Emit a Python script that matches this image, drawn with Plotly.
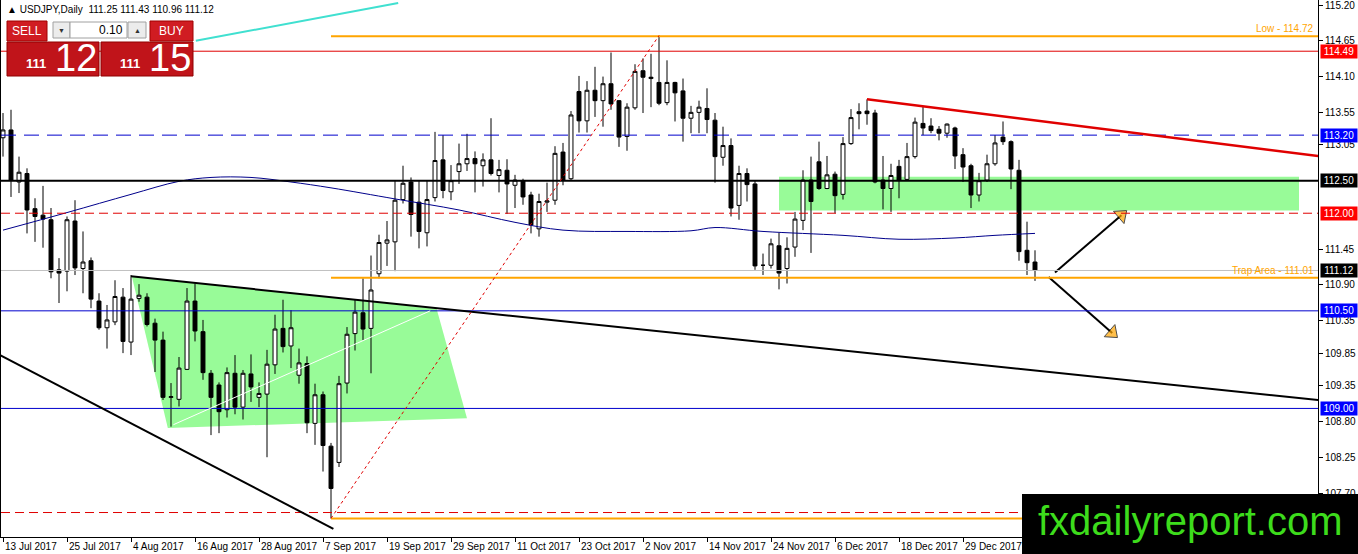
import plotly.graph_objects as go

# ---- daily candles (index 0 = 13 Jul 2017) ----
opens = [113.16, 113.28, 112.48, 112.61, 112.07, 111.97, 111.90, 111.13, 111.11, 111.88,
         111.15, 111.27, 110.65, 110.24, 110.33, 110.71, 110.02, 110.69, 110.71, 110.31,
         110.05, 109.17, 109.14, 109.60, 110.65, 110.18, 109.54, 109.36, 108.98, 109.54,
         109.02, 109.53, 109.17, 109.22, 109.67, 110.23, 109.96, 109.51, 109.69, 108.77,
         109.21, 108.42, 108.17, 109.39, 110.15, 110.47, 110.23, 111.07, 111.54, 111.56,
         112.21, 112.48, 112.17, 111.70, 112.24, 112.82, 112.33, 112.64, 112.76, 112.84,
         112.73, 112.82, 112.58, 112.66, 112.43, 112.50, 112.28, 111.76, 112.17, 112.20,
         112.94, 112.53, 113.87, 113.42, 113.89, 113.73, 113.99, 113.73, 113.18, 113.62,
         114.19, 114.07, 114.01, 113.70, 114.01, 113.88, 113.46, 113.55, 113.61, 113.43,
         112.86, 113.04, 112.12, 112.61, 112.45, 111.20, 111.20, 111.50, 111.15, 111.48,
         111.89, 112.51, 112.79, 112.38, 112.60, 112.29, 113.07, 113.56, 113.57, 113.54,
         112.51, 112.38, 112.72, 112.52, 112.87, 113.38, 113.34, 113.29, 113.23, 113.31,
         112.90, 112.73, 112.28, 112.51, 112.76, 113.17, 113.10, 112.66, 111.43, 111.25]
highs = [113.54, 113.59, 112.87, 112.69, 112.23, 112.42, 112.08, 111.31, 111.95, 112.20,
         111.72, 111.32, 110.77, 110.59, 110.97, 110.85, 111.05, 110.91, 110.77, 110.38,
         110.18, 109.39, 109.79, 110.85, 110.92, 110.36, 109.59, 109.40, 109.63, 109.82,
         109.59, 109.83, 109.40, 109.90, 110.44, 110.67, 110.51, 109.92, 109.80, 109.38,
         109.26, 108.47, 109.50, 110.25, 110.67, 111.00, 111.35, 111.67, 111.88, 112.51,
         112.73, 112.55, 112.51, 112.51, 113.25, 113.20, 112.74, 113.07, 113.22, 112.95,
         112.92, 113.46, 112.82, 112.83, 112.59, 112.53, 112.33, 112.30, 112.47, 113.03,
         113.08, 113.57, 114.11, 114.03, 114.25, 114.10, 114.47, 113.74, 113.69, 114.29,
         114.38, 114.45, 114.73, 114.35, 114.02, 114.07, 113.65, 113.73, 113.92, 113.54,
         113.33, 113.15, 112.73, 112.69, 112.51, 111.38, 111.61, 111.70, 111.63, 112.02,
         112.66, 112.87, 113.10, 112.88, 112.64, 113.17, 113.60, 113.69, 113.75, 113.59,
         112.88, 112.76, 112.82, 113.08, 113.47, 113.64, 113.46, 113.34, 113.38, 113.33,
         113.00, 112.76, 112.62, 112.90, 113.20, 113.41, 113.12, 112.82, 111.87, 111.43]
lows = [112.87, 112.25, 112.31, 111.69, 111.56, 111.47, 111.00, 110.62, 110.80, 111.05,
        110.77, 110.54, 110.21, 109.92, 110.28, 109.85, 109.82, 110.64, 110.26, 109.56,
        109.13, 108.72, 109.03, 109.59, 110.03, 109.44, 108.59, 108.62, 108.86, 108.91,
        108.83, 109.10, 109.02, 108.25, 109.53, 109.86, 109.62, 109.38, 108.62, 108.44,
        108.03, 107.31, 108.10, 109.23, 109.89, 110.05, 109.54, 111.00, 111.19, 111.11,
        112.15, 111.64, 111.46, 111.49, 112.18, 112.23, 112.20, 112.45, 112.65, 112.32,
        112.41, 112.58, 112.32, 111.99, 112.08, 112.13, 111.69, 111.64, 112.02, 112.13,
        112.43, 112.51, 113.24, 113.24, 113.48, 113.33, 113.59, 113.02, 112.96, 113.59,
        113.54, 113.63, 113.66, 113.66, 113.41, 113.10, 113.23, 113.23, 113.23, 112.47,
        112.73, 111.95, 111.90, 112.18, 111.13, 111.05, 111.15, 110.83, 110.92, 111.33,
        111.74, 111.39, 112.36, 112.37, 112.00, 112.21, 113.05, 113.29, 113.36, 112.46,
        112.06, 112.02, 112.23, 112.51, 112.84, 113.20, 113.23, 113.12, 113.16, 112.68,
        112.48, 112.08, 112.18, 112.48, 112.73, 113.05, 112.37, 111.27, 111.05, 110.96]
closes = [113.28, 112.51, 112.63, 112.05, 111.95, 111.91, 111.10, 111.08, 111.90, 111.16,
          111.25, 110.68, 110.24, 110.36, 110.72, 110.03, 110.68, 110.74, 110.29, 110.05,
          109.17, 109.18, 109.62, 110.65, 110.19, 109.55, 109.17, 108.95, 109.55, 109.02,
          109.54, 109.33, 109.23, 109.68, 110.22, 109.95, 110.24, 109.70, 108.78, 109.21,
          108.43, 107.77, 109.38, 110.14, 110.48, 110.22, 110.82, 111.55, 111.59, 112.20,
          112.46, 111.98, 111.72, 112.21, 112.81, 112.35, 112.50, 112.76, 112.84, 112.76,
          112.82, 112.61, 112.67, 112.45, 112.51, 112.25, 111.82, 112.18, 112.19, 112.92,
          112.51, 113.51, 113.42, 113.89, 113.73, 113.99, 113.68, 113.17, 113.63, 114.18,
          114.09, 114.09, 113.69, 114.01, 113.85, 113.46, 113.55, 113.63, 113.44, 112.87,
          113.04, 112.08, 112.61, 112.44, 111.19, 111.20, 111.53, 111.08, 111.46, 111.91,
          112.51, 112.18, 112.38, 112.59, 112.27, 113.07, 113.47, 113.53, 113.53, 112.48,
          112.38, 112.58, 112.51, 112.87, 113.40, 113.31, 113.27, 113.23, 113.37, 112.88,
          112.71, 112.28, 112.50, 112.76, 113.08, 113.10, 112.68, 111.41, 111.24, 111.12]
bars = list(range(len(closes)))

date_idx = [0, 8, 16, 24, 32, 40, 48, 56, 64, 72, 80, 88, 96, 104, 112, 120]
date_labels = ["13 Jul 2017", "25 Jul 2017", "4 Aug 2017", "16 Aug 2017", "28 Aug 2017",
               "7 Sep 2017", "19 Sep 2017", "29 Sep 2017", "11 Oct 2017", "23 Oct 2017",
               "2 Nov 2017", "14 Nov 2017", "24 Nov 2017", "6 Dec 2017", "18 Dec 2017",
               "29 Dec 2017"]
price_ticks = [115.20, 114.65, 114.10, 113.55, 113.05, 111.45, 110.90, 110.35,
               109.85, 109.35, 108.80, 108.25, 107.70]

# moving average, read at a few bars
ma_idx = [0, 8, 16, 22, 26, 31, 36, 41, 49, 57, 64, 70, 78, 86, 89, 95, 105, 112, 119, 124, 129]
ma_val = [111.74, 112.01, 112.29, 112.49, 112.55, 112.55, 112.48, 112.39, 112.22, 112.05,
          111.86, 111.74, 111.72, 111.73, 111.78, 111.72, 111.66, 111.60, 111.62, 111.66, 111.69]

# horizontal levels
full_solid = [(114.49, "#e00000", 1), (112.50, "#000000", 2), (111.12, "#c0c0c0", 1),
              (110.50, "#0000cd", 1), (109.00, "#0000cd", 1)]
full_dash = [(113.20, "#0000cd", "15px,8px"), (112.00, "#e00000", "9px,5px"),
             (107.40, "#e00000", "9px,5px")]
orange_levels = [114.72, 111.01, 107.31]
orange_start = 41

# trend lines: (x0, y0, x1, y1, colour, width, dash)
trends = [
    (16, 111.03, 164.4, 109.13, "#000000", 2, "solid"),
    (-0.4, 109.82, 41.3, 107.15, "#000000", 2, "solid"),
    (41, 107.31, 82, 114.73, "#e00000", 1, "dot"),
    (108, 113.75, 164.4, 112.88, "#e00000", 2.5, "solid"),
    (24.1, 114.65, 49.4, 115.23, "#40e0d0", 2, "solid"),
    (21.3, 108.75, 53.4, 110.50, "#ffffff", 1, "solid"),
]
wedge_x = [16.1, 54.2, 58.0, 20.6]
wedge_y = [111.03, 110.53, 108.85, 108.70]
zone_x = [97, 162]
zone_y = [112.04, 112.56]

arrows = [((131.5, 111.09), (139.8, 111.97)), ((130.7, 111.02), (138.65, 110.16))]

box_levels = [114.49, 113.20, 112.50, 112.00, 111.12, 110.50, 109.00]
box_colors = ["#ff0000", "#0000ff", "#000000", "#ff0000", "#000000", "#0000ff", "#0000ff"]

W, H = 1358, 554
ML, MR, MT, MB = 1, 40, 0, 17
FONT = "Liberation Sans, Arial, DejaVu Sans"


def px(x):
    return (x - ML) / (W - ML - MR)


def py(y):
    return 1 - (y - MT) / (H - MT - MB)


fig = go.Figure()

fig.add_trace(go.Candlestick(
    x=bars, open=opens, high=highs, low=lows, close=closes,
    increasing=dict(line=dict(color="black", width=1), fillcolor="white"),
    decreasing=dict(line=dict(color="black", width=1), fillcolor="black"),
    whiskerwidth=0, showlegend=False, hoverinfo="skip",
))
fig.add_trace(go.Scatter(x=ma_idx, y=ma_val, mode="lines", line=dict(color="#00008b", width=1, shape="spline"),
                         showlegend=False, hoverinfo="skip"))

shapes = []
shapes.append(dict(type="path", xref="x", yref="y", layer="below", line=dict(width=0),
                   fillcolor="#98fb98",
                   path="M " + " L ".join(f"{a},{b}" for a, b in zip(wedge_x, wedge_y)) + " Z"))
shapes.append(dict(type="rect", xref="x", yref="y", layer="below", line=dict(width=0),
                   fillcolor="#98fb98", x0=zone_x[0], x1=zone_x[1], y0=zone_y[0], y1=zone_y[1]))

for lvl, col, w in full_solid:
    shapes.append(dict(type="line", xref="paper", yref="y", x0=0, x1=1, y0=lvl, y1=lvl,
                       line=dict(color=col, width=w)))
for lvl, col, d in full_dash:
    shapes.append(dict(type="line", xref="paper", yref="y", x0=0, x1=1, y0=lvl, y1=lvl,
                       line=dict(color=col, width=1, dash=d)))
for lvl in orange_levels:
    shapes.append(dict(type="line", xref="x", yref="y", x0=orange_start, x1=164.4, y0=lvl, y1=lvl,
                       line=dict(color="#ffa500", width=2)))
for x0, y0, x1, y1, col, w, d in trends:
    shapes.append(dict(type="line", xref="x", yref="y", x0=x0, y0=y0, x1=x1, y1=y1,
                       line=dict(color=col, width=w, dash=d)))

for (tx, ty), (hx, hy) in arrows:
    fig.add_trace(go.Scatter(
        x=[tx, hx], y=[ty, hy], mode="lines+markers",
        line=dict(color="black", width=2),
        marker=dict(size=[0, 14], symbol=["circle", "triangle-up"], angleref="previous",
                    color="#ffa500", line=dict(color="black", width=1)),
        showlegend=False, hoverinfo="skip"))


def pbox(x0, y0, x1, y1, fill, line="rgba(0,0,0,0)"):
    shapes.append(dict(type="rect", xref="paper", yref="paper", layer="above",
                       x0=px(x0), x1=px(x1), y0=py(y1), y1=py(y0),
                       fillcolor=fill, line=dict(color=line, width=1)))


# trade panel
pbox(7, 21, 47, 41, "#d01c22", "#a00000")
pbox(53, 22, 70, 38, "#ececec", "#a0a0a0")
pbox(70, 22, 127, 38, "#ffffff", "#a0a0a0")
pbox(128, 22, 146, 38, "#ececec", "#a0a0a0")
pbox(150, 21, 193, 41, "#d01c22", "#a00000")
pbox(7, 42, 99, 76, "#c0141a", "#900000")
pbox(101, 42, 193, 76, "#c0141a", "#900000")
# logo box
pbox(1022, 494, 1358, 554, "#000000")

annotations = []


def ptext(x, y, text, size, color, xanchor="center", yanchor="middle", family=FONT):
    annotations.append(dict(xref="paper", yref="paper", x=px(x), y=py(y), text=text, showarrow=False,
                            xanchor=xanchor, yanchor=yanchor, font=dict(size=size, color=color, family=family)))


ptext(5, 10, "▲ USDJPY,Daily  111.25 111.43 110.96 111.12", 10, "black", xanchor="left")
ptext(27, 31, "SELL", 12, "white")
ptext(171, 31, "BUY", 12, "white")
ptext(61, 30, "▼", 7, "#333333")
ptext(137, 30, "▲", 7, "#333333")
ptext(125, 30, "0.10", 12, "black", xanchor="right")
ptext(48, 64, "<b>111</b>", 13, "white", xanchor="right")
ptext(53, 58, "12", 38, "white", xanchor="left")
ptext(142, 64, "<b>111</b>", 13, "white", xanchor="right")
ptext(147, 58, "15", 38, "white", xanchor="left")
ptext(1190, 521, "fxdailyreport.com", 40, "#3ddc1c")

for i, lab in zip(date_idx, date_labels):
    annotations.append(dict(xref="x", yref="paper", x=i, y=0, text=lab, showarrow=False,
                            xanchor="left", yanchor="top", xshift=0, yshift=-2,
                            font=dict(size=10, color="black", family=FONT)))

annotations.append(dict(xref="paper", yref="y", x=1, y=orange_levels[0], text="Low - 114.72",
                        showarrow=False, xanchor="right", yanchor="bottom", xshift=-2,
                        font=dict(size=10, color="#ffa500", family=FONT)))
annotations.append(dict(xref="paper", yref="y", x=1, y=orange_levels[1], text="Trap Area - 111.01",
                        showarrow=False, xanchor="right", yanchor="bottom", xshift=-2,
                        font=dict(size=10, color="#ffa500", family=FONT)))

for lvl, col in zip(box_levels, box_colors):
    annotations.append(dict(xref="paper", yref="y", x=1, y=lvl, text=f"{lvl:.2f}", showarrow=False,
                            xanchor="left", yanchor="middle", xshift=2, bgcolor=col, borderpad=1,
                            width=34, height=11, font=dict(size=10, color="white", family=FONT)))

fig.update_layout(
    width=W, height=H,
    margin=dict(l=ML, r=MR, t=MT, b=MB),
    paper_bgcolor="white", plot_bgcolor="white",
    shapes=shapes, annotations=annotations,
    xaxis=dict(range=[-0.25, 164.375], rangeslider=dict(visible=False), showgrid=False, zeroline=False,
               tickvals=date_idx, ticks="outside", ticklen=4, tickcolor="black", showticklabels=False,
               showline=True, linecolor="black", linewidth=1),
    yaxis=dict(range=[107.024, 115.277], side="right", showgrid=False, zeroline=False,
               tickvals=price_ticks, ticktext=[f"{v:.2f}" for v in price_ticks],
               ticks="outside", ticklen=4, tickcolor="black", ticklabeloverflow="allow",
               tickfont=dict(size=10, color="black", family=FONT),
               showline=True, linecolor="black", linewidth=1, mirror=True),
    showlegend=False,
)

fig.write_html("out.html", config={"displayModeBar": False},
               post_script="document.body.style.margin='0';document.body.style.overflow='hidden';")
